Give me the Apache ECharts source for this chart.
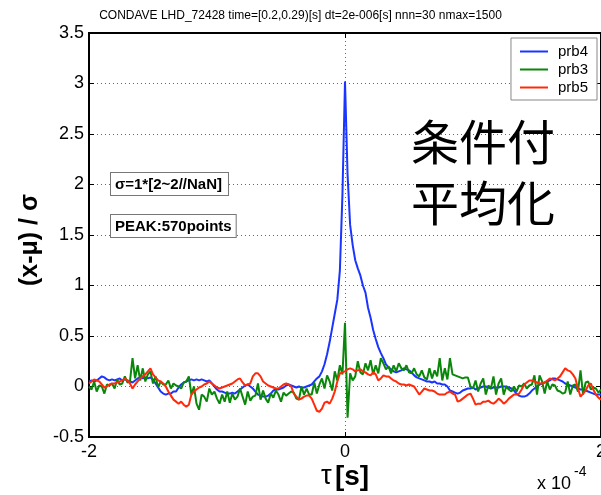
<!DOCTYPE html>
<html><head><meta charset="utf-8">
<script src="https://cdn.jsdelivr.net/npm/echarts@6/dist/echarts.min.js"></script>
<style>html,body{margin:0;padding:0;background:#fff}#c{width:601px;height:495px}</style>
</head><body><div id="c"></div>
<script>
const titleText = 'CONDAVE LHD_72428 time=[0.2,0.29)[s] dt=2e-006[s] nnn=30 nmax=1500';
const seriesNames = ['prb4', 'prb3', 'prb5'];
const seriesColors = ['#1a35ff', '#0a870a', '#ff2a0a'];
// tau axis in units of 1e-4 s, sampled every 2e-6 s
const tauStart = -2, tauStep = 0.02, nPts = 201;
const xTicks = [-2, 0, 2];
const yMin = -0.5, yMax = 3.5, yStep = 0.5;

const prb4 = [
 0.05, 0.06, 0.05, 0.06, 0.08, 0.10, 0.09, 0.07, 0.06, 0.07,
 0.06, 0.07, 0.08, 0.06, 0.07, 0.06, 0.05, 0.04, 0.06, 0.08,
 0.09, 0.08, 0.09, 0.08, 0.09, 0.07, 0.03, -0.01, -0.05, -0.07,
 -0.08, -0.07, -0.07, -0.05, -0.05, -0.01, 0.02, 0.04, 0.05, 0.06,
 0.07, 0.06, 0.07, 0.06, 0.07, 0.06, 0.05, 0.06, 0.03, 0.00,
 -0.03, -0.05, -0.05, -0.06, -0.07, -0.07, -0.06, -0.07, -0.05, -0.03,
 -0.01, 0.01, 0.02, 0.00, -0.02, -0.05, -0.08, -0.09, -0.10, -0.10,
 -0.09, -0.07, -0.04, -0.03, -0.03, -0.02, -0.01, 0.01, 0.02, 0.01,
 0.00, -0.01, 0.00, -0.01, -0.01, 0.00, 0.01, 0.02, 0.05, 0.08,
 0.10, 0.15, 0.22, 0.32, 0.44, 0.58, 0.72, 0.86, 1.15, 1.90,
 3.02,
 2.10, 1.60, 1.40, 1.25, 1.17, 1.10, 1.00, 0.93, 0.78, 0.68,
 0.56, 0.47, 0.39, 0.33, 0.28, 0.22, 0.19, 0.17, 0.15, 0.14,
 0.15, 0.16, 0.18, 0.17, 0.16, 0.14, 0.11, 0.09, 0.08, 0.07,
 0.06, 0.05, 0.05, 0.04, 0.05, 0.03, 0.03, 0.02, 0.02, 0.00,
 -0.04, -0.05, -0.06, -0.07, -0.06, -0.04, -0.03, -0.02, -0.02, -0.01,
 -0.03, -0.02, -0.01, 0.00, 0.00, -0.01, -0.02, -0.01, -0.01, -0.01,
 0.00, 0.00, 0.00, -0.01, -0.02, -0.04, -0.07, -0.09, -0.10, -0.10,
 -0.09, -0.07, -0.04, -0.02, 0.00, 0.02, 0.03, 0.04, 0.05, 0.06,
 0.08, 0.08, 0.07, 0.06, 0.05, 0.03, 0.02, 0.01, 0.00, -0.01,
 -0.02, -0.03, -0.03, -0.04, -0.05, -0.06, -0.07, -0.08, -0.08, -0.08
];

const prb3 = [
 0.00, -0.03, 0.05, -0.05, 0.01, 0.00, -0.07, 0.02, 0.01, 0.03,
 -0.02, 0.07, 0.02, 0.03, 0.10, 0.04, 0.05, 0.28, 0.08, 0.21,
 0.06, 0.18, 0.05, 0.12, 0.15, 0.03, 0.10, -0.01, 0.05, 0.02,
 0.02, 0.06, -0.02, 0.03, 0.01, 0.00, -0.02, 0.04, 0.05, 0.10,
 -0.08, 0.00, -0.17, -0.23, -0.08, -0.10, -0.15, -0.02, -0.08, -0.05,
 -0.12, -0.17, -0.08, -0.15, -0.05, -0.16, -0.07, -0.13, -0.10, -0.02,
 -0.10, -0.18, -0.05, -0.14, -0.10, -0.09, 0.03, -0.13, -0.04, -0.12,
 -0.16, -0.07, -0.11, -0.04, -0.08, -0.15, -0.06, -0.09, -0.07, -0.05,
 -0.06, -0.12, -0.13, 0.00, -0.08, -0.02, -0.08, -0.08, 0.04, -0.07,
 0.02, 0.08, -0.02, 0.11, 0.05, -0.04, 0.15, 0.06, 0.21, 0.12,
 0.63, -0.31, 0.13, 0.06, 0.10, 0.25, 0.14, 0.12, 0.23, 0.16,
 0.26, 0.12, 0.21, 0.13, 0.28, 0.23, 0.17, 0.20, 0.13, 0.21,
 0.15, 0.23, 0.18, 0.16, 0.21, 0.14, 0.13, 0.18, 0.12, 0.10,
 0.16, 0.09, 0.07, 0.18, 0.08, 0.16, 0.10, 0.28, 0.06, 0.18,
 0.07, 0.28, 0.12, 0.11, 0.10, 0.09, 0.08, 0.09, 0.09, 0.00,
 -0.02, 0.06, -0.05, 0.03, 0.08, -0.08, 0.01, -0.02, 0.10, -0.08,
 0.03, 0.08, -0.08, 0.00, -0.03, -0.05, 0.00, -0.05, 0.01, 0.00,
 0.03, -0.02, 0.01, 0.02, 0.11, -0.08, 0.11, 0.05, -0.07, 0.05,
 -0.03, 0.02, 0.01, -0.04, -0.05, -0.07, -0.06, 0.05, -0.08, 0.01,
 0.02, -0.05, 0.16, -0.08, 0.04, 0.05, -0.03, -0.01, -0.02, -0.06, -0.03
];

const prb5 = [
 0.03, 0.05, 0.07, 0.06, 0.05, 0.02, -0.01, 0.00, 0.02, 0.03,
 0.03, 0.04, 0.05, 0.06, 0.08, 0.06, 0.03, -0.02, 0.02, 0.05,
 0.08, 0.10, 0.12, 0.15, 0.18, 0.12, 0.09, 0.06, 0.05, 0.03,
 0.00, -0.05, -0.09, -0.13, -0.15, -0.17, -0.15, -0.18, -0.20, -0.18,
 -0.08, -0.05, -0.03, -0.01, 0.00, 0.02, 0.03, 0.05, 0.03, 0.01,
 -0.01, -0.02, -0.01, 0.00, 0.01, 0.02, 0.03, 0.05, 0.07, 0.08,
 0.04, 0.01, 0.02, 0.03, 0.10, 0.13, 0.13, 0.10, 0.05, 0.03,
 0.01, 0.00, -0.01, -0.02, -0.02, 0.00, 0.02, 0.03, 0.02, 0.00,
 -0.07, -0.10, -0.13, -0.12, -0.10, -0.09, -0.09, -0.12, -0.18, -0.24,
 -0.25, -0.22, -0.16, -0.15, -0.17, -0.12, -0.05, 0.05, 0.13, 0.14,
 0.15, 0.17, 0.18, 0.17, 0.15, 0.16, 0.17, 0.15, 0.14, 0.12,
 0.11, 0.14, 0.12, 0.06, 0.08, 0.11, 0.10, 0.10, 0.08, 0.06,
 0.05, 0.03, 0.02, 0.02, 0.01, 0.02, 0.01, 0.00, -0.04, -0.08,
 -0.05, -0.02, -0.03, -0.04, -0.04, -0.05, -0.07, -0.08, -0.08, -0.08,
 -0.06, -0.05, -0.07, -0.08, -0.15, -0.14, -0.12, -0.10, -0.08, -0.07,
 -0.12, -0.18, -0.17, -0.17, -0.15, -0.15, -0.14, -0.16, -0.17, -0.15,
 -0.12, -0.14, -0.17, -0.15, -0.12, -0.10, -0.08, -0.08, -0.07, -0.03,
 0.02, 0.04, 0.06, 0.06, 0.05, 0.04, 0.03, 0.03, 0.04, 0.06,
 0.08, 0.07, 0.06, 0.08, 0.10, 0.14, 0.18, 0.16, 0.15, 0.12,
 0.08, -0.02, -0.10, -0.07, -0.04, 0.01, 0.03, -0.03, -0.08, -0.11, -0.13
];

const tau = Array.from({length: nPts}, (_, i) => +(tauStart + i * tauStep).toFixed(2));
const seriesValues = [prb4, prb3, prb5];

const chart = echarts.init(document.getElementById('c'), null, {renderer: 'canvas'});
const FONT = '"Liberation Sans", Arial, sans-serif';
const gridLine = {show: true, lineStyle: {color: '#666', type: [1, 3], width: 1}};
const axisBase = {
  axisLine: {show: true, onZero: false, lineStyle: {color: '#000', width: 2}},
  axisTick: {show: true, inside: true, length: 5, lineStyle: {color: '#000', width: 1}}
};

chart.setOption({
  animation: false,
  backgroundColor: '#fff',
  title: {text: titleText, left: 'center', top: 5,
    textStyle: {fontSize: 12, fontWeight: 'normal', fontFamily: FONT, color: '#000'}},
  grid: {left: 89, right: 0, top: 33, bottom: 58, outerBoundsMode: 'none', containLabel: false,
    show: true, borderColor: '#000', borderWidth: 2, backgroundColor: '#fff'},
  legend: {
    data: seriesNames, orient: 'vertical', right: 4, top: 38,
    icon: 'rect', itemWidth: 28, itemHeight: 2,
    backgroundColor: '#fff', borderColor: '#888', borderWidth: 1, borderRadius: 0,
    padding: [6, 9, 5, 9], itemGap: 3,
    textStyle: {fontSize: 15, fontFamily: FONT, color: '#000', padding: [0, 0, 0, 5]}
  },
  xAxis: [
    Object.assign({type: 'value', min: xTicks[0], max: xTicks[xTicks.length - 1], interval: 2,
      axisLabel: {color: '#000', fontSize: 18, fontFamily: FONT, margin: 6, showMaxLabel: true, showMinLabel: true},
      splitLine: gridLine}, axisBase),
    Object.assign({type: 'value', position: 'top', min: xTicks[0], max: xTicks[xTicks.length - 1], interval: 2,
      axisLabel: {show: false}, splitLine: {show: false}}, axisBase)
  ],
  yAxis: [
    Object.assign({type: 'value', min: yMin, max: yMax, interval: yStep,
      axisLabel: {color: '#000', fontSize: 18, fontFamily: FONT, margin: 5},
      splitLine: gridLine}, axisBase),
    Object.assign({type: 'value', position: 'right', min: yMin, max: yMax, interval: yStep,
      axisLabel: {show: false}, splitLine: {show: false}}, axisBase)
  ],
  series: seriesNames.map((name, k) => ({
    name, type: 'line', symbol: 'none', showSymbol: false,
    lineStyle: {width: 2, color: seriesColors[k]}, itemStyle: {color: seriesColors[k]},
    data: tau.map((t, i) => [t, seriesValues[k][i]])
  })),
  graphic: [
    {type: 'text', left: 411, top: 111, z: 10,
      style: {text: '条件付\n平均化', font: '48px "Noto Sans CJK JP"', fill: '#000', lineHeight: 61}},
    {type: 'text', x: 111, y: 173, z: 10,
      style: {text: 'σ=1*[2~2//NaN]', font: 'bold 15px ' + FONT, fill: '#000',
        backgroundColor: '#fff', borderColor: '#777', borderWidth: 1, padding: [4, 6, 3, 4]}},
    {type: 'text', x: 111, y: 215, z: 10,
      style: {text: 'PEAK:570points', font: 'bold 15px ' + FONT, fill: '#000',
        backgroundColor: '#fff', borderColor: '#777', borderWidth: 1, padding: [4, 4, 3, 4]}},
    {type: 'text', x: 30, y: 240, rotation: Math.PI / 2, z: 10,
      style: {text: '(x-μ) / σ', font: 'bold 25px ' + FONT, fill: '#000', align: 'center', verticalAlign: 'middle'}},
    {type: 'text', x: 345, y: 477, z: 10,
      style: {text: '{t|τ} {s|[s]}', align: 'center', verticalAlign: 'middle',
        rich: {t: {font: '27px ' + FONT, fill: '#000'}, s: {font: 'bold 28px ' + FONT, fill: '#000'}}}},
    {type: 'text', x: 537, y: 484, z: 10,
      style: {text: 'x 10', font: '18px ' + FONT, fill: '#000', verticalAlign: 'middle'}},
    {type: 'text', x: 574, y: 472, z: 10,
      style: {text: '-4', font: '14px ' + FONT, fill: '#000', verticalAlign: 'middle'}}
  ]
});
</script></body></html>
